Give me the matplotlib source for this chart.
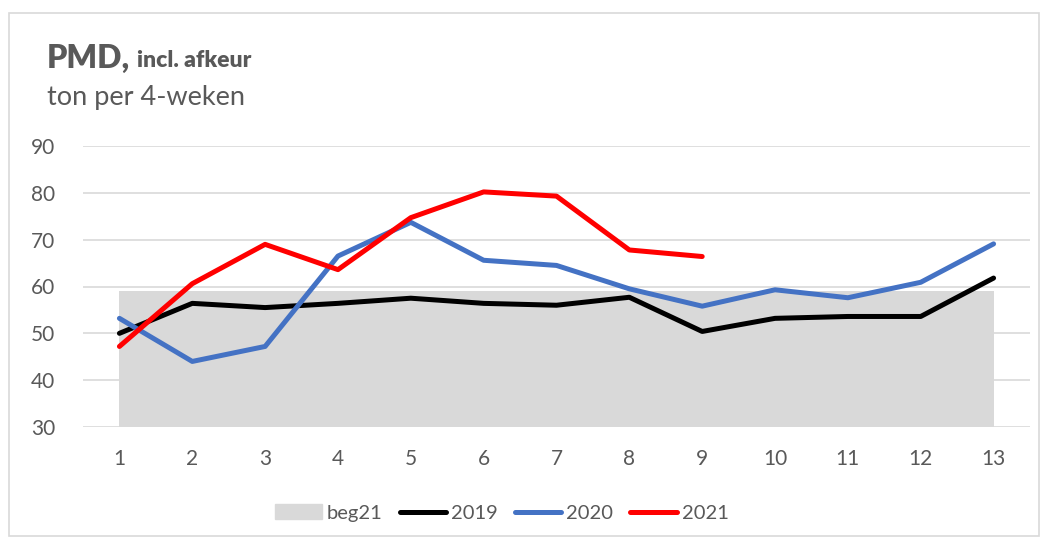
import matplotlib
matplotlib.use("Agg")
import matplotlib.pyplot as plt
from matplotlib.patches import Rectangle
from matplotlib.lines import Line2D

periods = list(range(1, 14))
beg21 = [59] * 13
y2019 = [50.0, 56.4, 55.5, 56.4, 57.5, 56.4, 56.0, 57.7, 50.4, 53.2, 53.6, 53.6, 61.8]
y2020 = [53.2, 44.0, 47.2, 66.5, 73.7, 65.6, 64.5, 59.5, 55.8, 59.3, 57.6, 60.9, 69.1]
y2021 = [47.2, 60.6, 69.0, 63.6, 74.7, 80.2, 79.3, 67.8, 66.4]
yticks = [30, 40, 50, 60, 70, 80, 90]

plt.rcParams['font.family'] = ['Lato', 'DejaVu Sans']
TXT = '#595959'

fig = plt.figure(figsize=(10.46, 5.42), dpi=100)
fig.patches.append(Rectangle((9/1046, 1-536/542), 1030/1046, 523/542, transform=fig.transFigure,
                             fill=False, edgecolor='#d9d9d9', linewidth=1.2))
ax = fig.add_axes([83/1046, 1-427/542, 947/1046, 281/542])

ax.fill_between(periods, 30, beg21, color='#d9d9d9', linewidth=0, zorder=2)
ax.plot(periods, y2019, color='black', lw=3.6, solid_capstyle='round', solid_joinstyle='round', zorder=3)
ax.plot(periods, y2020, color='#4472c4', lw=3.6, solid_capstyle='round', solid_joinstyle='round', zorder=4)
ax.plot(periods[:len(y2021)], y2021, color='#ff0000', lw=3.6, solid_capstyle='round', solid_joinstyle='round', zorder=5)

ax.set_xlim(0.5, 13.5)
ax.set_ylim(30, 90)
ax.set_yticks(yticks)
ax.set_xticks(periods)
ax.yaxis.grid(True, color='#d9d9d9', lw=1.2, zorder=1)
ax.set_axisbelow(True)
for s in ax.spines.values():
    s.set_visible(False)
ax.tick_params(length=0, labelsize=15, labelcolor=TXT)
ax.tick_params(axis='x', pad=16)
ax.tick_params(axis='y', pad=20)

fig.text(47/1046, 1-58/542, 'PMD,', fontsize=23, fontweight='heavy', color=TXT, va='center', ha='left')
fig.text(137/1046, 1-60/542, 'incl. afkeur', fontsize=16.5, fontweight='heavy', color=TXT, va='center', ha='left')
fig.text(47/1046, 1-98/542, 'ton per 4-weken', fontsize=19.5, color=TXT, va='center', ha='left')

handles = [Rectangle((0, 0), 1, 1, color='#d9d9d9'),
           Line2D([], [], color='black', lw=3.6, solid_capstyle='round'),
           Line2D([], [], color='#4472c4', lw=3.6, solid_capstyle='round'),
           Line2D([], [], color='#ff0000', lw=3.6, solid_capstyle='round')]
leg = fig.legend(handles, ['beg21', '2019', '2020', '2021'], loc='center', bbox_to_anchor=(502/1046, 1-513/542),
                 ncol=4, frameon=False, fontsize=14.5, handlelength=2.3, handleheight=0.7,
                 columnspacing=0.85, handletextpad=0.25)
for t in leg.get_texts():
    t.set_color(TXT)

fig.savefig('out.png', dpi=100)
